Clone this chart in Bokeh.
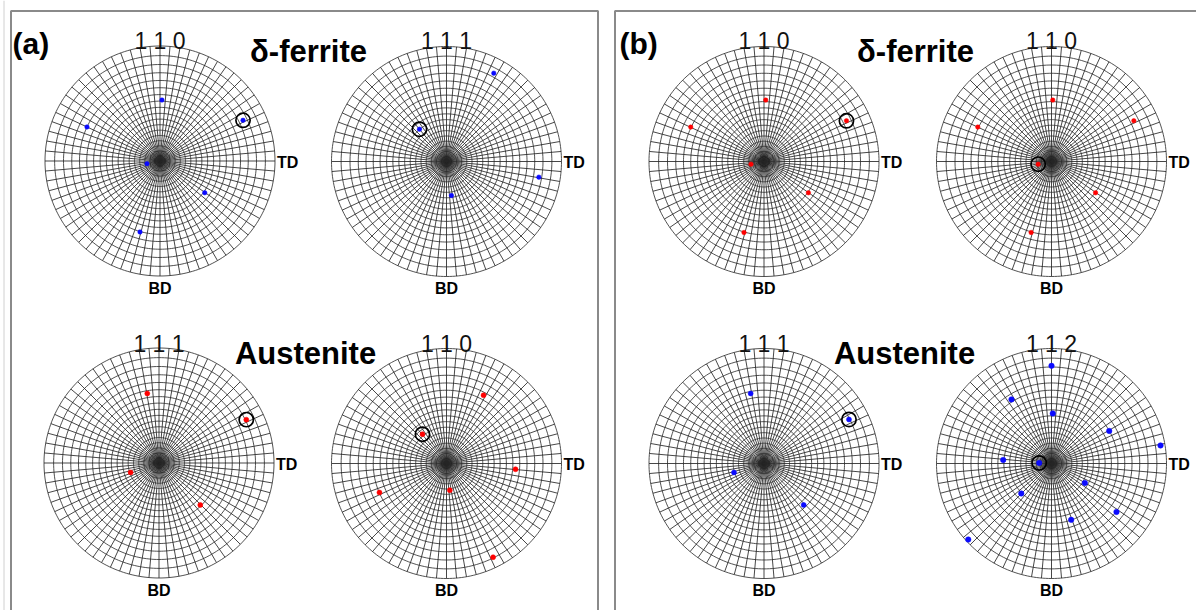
import numpy as np
from bokeh.plotting import figure
from bokeh.models import Range1d
from bokeh.core.properties import value
from bokeh.embed import file_html
from bokeh.resources import INLINE

# ---------------- data (pole positions on the unit projection circle) ----------------
net_ids = ["a1", "a2", "a3", "a4", "b1", "b2", "b3", "b4"]
net_hkl = ["1 1 0", "1 1 1", "1 1 1", "1 1 0", "1 1 0", "1 1 0", "1 1 1", "1 1 2"]
net_color = ["#0a0aff", "#0a0aff", "#ff0000", "#ff0000",
             "#ff0000", "#ff0000", "#0a0aff", "#0a0aff"]

# (a) delta-ferrite {110}
a1_x = [0.017, -0.635, 0.722, -0.113, 0.389, -0.174]
a1_y = [0.530, 0.296, 0.354, -0.023, -0.276, -0.617]
# (a) delta-ferrite {111}
a2_x = [0.411, -0.235, 0.803, 0.043]
a2_y = [0.768, 0.281, -0.136, -0.296]
# (a) austenite {111}
a3_x = [-0.102, 0.759, -0.247, 0.359]
a3_y = [0.605, 0.377, -0.082, -0.365]
# (a) austenite {110}
a4_x = [0.322, -0.209, 0.600, 0.029, -0.583, 0.405]
a4_y = [0.594, 0.255, -0.050, -0.232, -0.252, -0.815]
# (b) delta-ferrite {110}
b1_x = [0.015, -0.637, 0.717, -0.113, 0.386, -0.174]
b1_y = [0.534, 0.299, 0.354, -0.023, -0.272, -0.617]
# (b) delta-ferrite {110}
b2_x = [0.011, -0.641, 0.716, -0.116, 0.383, -0.177]
b2_y = [0.534, 0.299, 0.354, -0.023, -0.272, -0.617]
# (b) austenite {111}
b3_x = [-0.116, 0.739, -0.261, 0.345]
b3_y = [0.609, 0.383, -0.078, -0.360]
# (b) austenite {112}
b4_x = [0.000, -0.348, 0.011, 0.502, 0.948, -0.420, -0.107, 0.290, -0.263, 0.565, 0.171, -0.724]
b4_y = [0.849, 0.557, 0.435, 0.283, 0.157, 0.031, 0.005, -0.169, -0.261, -0.421, -0.490, -0.661]

net_px = [a1_x, a2_x, a3_x, a4_x, b1_x, b2_x, b3_x, b4_x]
net_py = [a1_y, a2_y, a3_y, a4_y, b1_y, b2_y, b3_y, b4_y]
# index of the circled pole in each net
net_mark = [2, 1, 1, 1, 2, 3, 1, 6]

phase_labels = ["δ-ferrite", "Austenite", "δ-ferrite", "Austenite"]
panel_labels = ["(a)", "(b)"]

# ---------------- layout (page pixels) ----------------
W, H = 1196, 610
X0, Y0 = 0, 0
net_cx = [159.5, 446, 158.5, 446, 763.5, 1051, 763.5, 1051]
net_cy = [160.5, 161, 462.5, 463, 161, 161, 463, 463]
R = 115.0
dot_size = [4.5, 4.5, 5, 5, 4.5, 4.5, 5, 5.5]

p = figure(width=W, height=H, output_backend="svg", toolbar_location=None,
           x_range=Range1d(X0, X0 + W), y_range=Range1d(Y0 + H, Y0),
           x_axis_location=None, y_axis_location=None, min_border=0)
p.outline_line_color = None
p.xgrid.visible = False
p.ygrid.visible = False
p.background_fill_color = "white"
p.border_fill_color = "white"

# panel frames
frame_col = "#8a8a8a"
p.multi_line(xs=[[10.5, 10.5, 597.5, 597.5], [614.5, 614.5, 1210]],
             ys=[[640, 10.5, 10.5, 640], [640, 10.5, 10.5]],
             line_color=frame_col, line_width=2)
p.line(x=[3.5, 3.5], y=[0, 640], line_color="#d0d0d0", line_width=1)

# net grid geometry (stereographic: 5 deg rings, 5 deg spokes)
th = np.linspace(0, 2 * np.pi, 241)
ring_r = np.tan(np.radians(np.arange(5, 91, 5)) / 2.0)
spoke_a = np.radians(np.arange(0, 360, 5))
ring_xs = [list(r * np.cos(th)) for r in ring_r]
ring_ys = [list(r * np.sin(th)) for r in ring_r]
spoke_xs = [[0.0, float(np.cos(a))] for a in spoke_a]
spoke_ys = [[0.0, float(np.sin(a))] for a in spoke_a]

grid_col = "#262626"
for i, nid in enumerate(net_ids):
    cx, cy = net_cx[i], net_cy[i]
    p.extra_x_ranges[nid] = Range1d((X0 - cx) / R, (X0 + W - cx) / R)
    p.extra_y_ranges[nid] = Range1d((cy - (Y0 + H)) / R, (cy - Y0) / R)
    kw = dict(x_range_name=nid, y_range_name=nid)
    p.multi_line(xs=spoke_xs, ys=spoke_ys, line_color=grid_col, line_width=0.85, **kw)
    p.multi_line(xs=ring_xs, ys=ring_ys, line_color=grid_col, line_width=0.8, **kw)
    p.scatter(x=net_px[i], y=net_py[i], size=dot_size[i], marker="circle",
              fill_color=net_color[i], line_color=net_color[i], line_width=0.5, **kw)
    m = net_mark[i]
    p.circle(x=[net_px[i][m]], y=[net_py[i][m]], radius=0.062, fill_color=None,
             line_color="black", line_width=1.7, **kw)

sans = value("Liberation Sans")
# hkl labels
p.text(x=net_cx, y=[40, 40, 343, 343, 40, 40, 343, 343], text=net_hkl,
       text_font=sans, text_font_size="23px", text_align="center",
       text_baseline="alphabetic", text_color="#111111")
# TD / BD labels
p.text(x=[c + 117 for c in net_cx], y=[c + 1 for c in net_cy], text=["TD"] * 8,
       text_font=sans, text_font_size="16px", text_font_style="bold",
       text_align="left", text_baseline="middle", text_color="black")
p.text(x=net_cx, y=[c + 127 for c in net_cy], text=["BD"] * 8,
       text_font=sans, text_font_size="16px", text_font_style="bold",
       text_align="center", text_baseline="middle", text_color="black")
# phase labels
p.text(x=[308, 305, 915, 904], y=[51, 353, 51, 353], text=phase_labels,
       text_font=sans, text_font_size="31px", text_font_style="bold",
       text_align="center", text_baseline="alphabetic", text_color="black")
# panel labels
p.text(x=[12, 619], y=[43, 43], text=panel_labels,
       text_font=sans, text_font_size="30px", text_font_style="bold",
       text_align="left", text_baseline="alphabetic", text_color="black")

open("out.html", "w").write(file_html(p, INLINE))
